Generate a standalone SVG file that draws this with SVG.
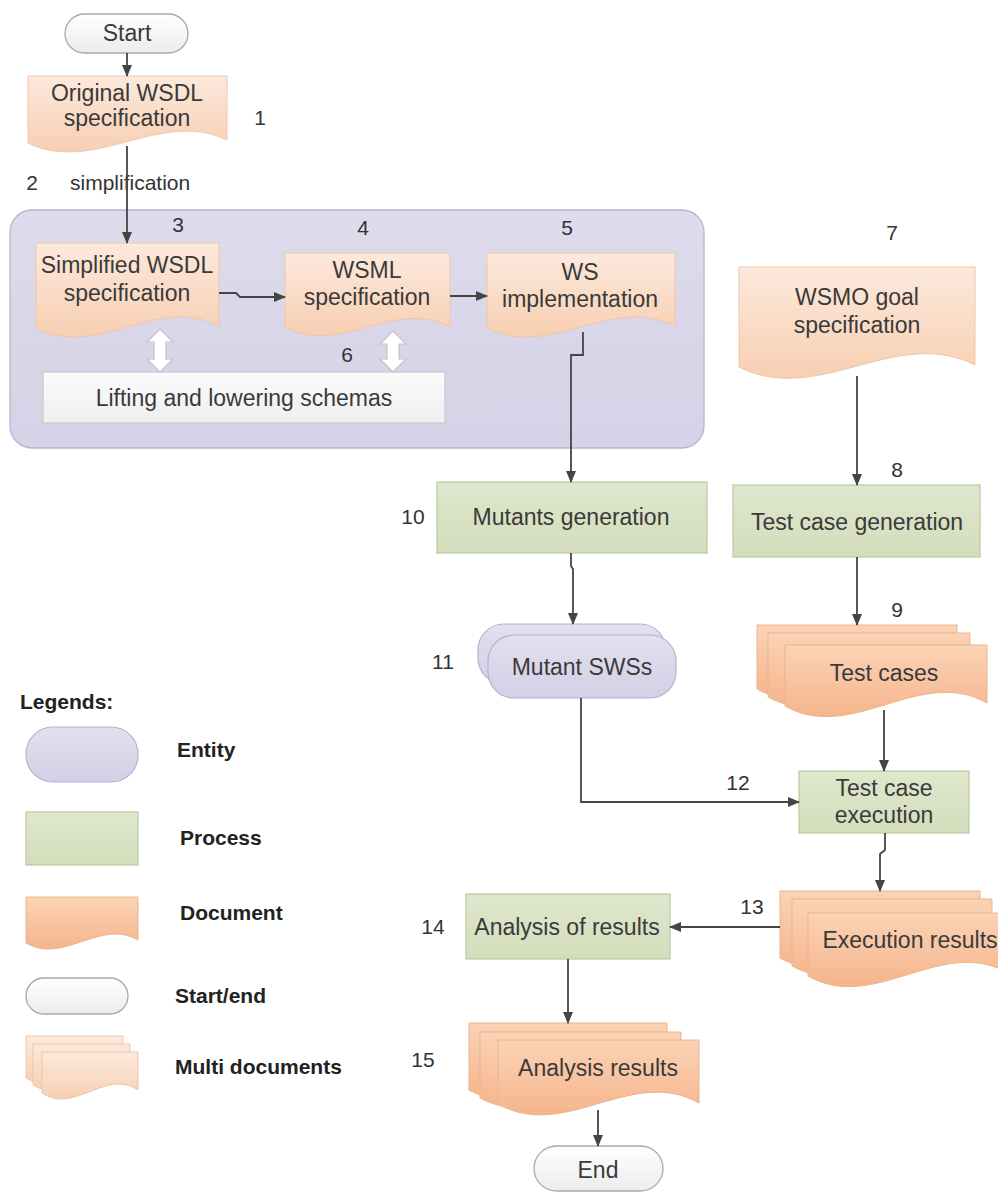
<svg xmlns="http://www.w3.org/2000/svg" width="998" height="1193" viewBox="0 0 998 1193">
<defs>
<linearGradient id="gDoc" x1="0" y1="0" x2="0" y2="1"><stop offset="0" stop-color="#fce9dc"/><stop offset="1" stop-color="#f8cfb2"/></linearGradient>
<linearGradient id="gMulti" x1="0" y1="0" x2="0" y2="1"><stop offset="0" stop-color="#fbd3b6"/><stop offset="1" stop-color="#f5b58c"/></linearGradient>
<linearGradient id="gProc" x1="0" y1="0" x2="0" y2="1"><stop offset="0" stop-color="#dfe7cd"/><stop offset="1" stop-color="#d3ddbb"/></linearGradient>
<linearGradient id="gEnt" x1="0" y1="0" x2="0" y2="1"><stop offset="0" stop-color="#e3e0ef"/><stop offset="1" stop-color="#d3cfe6"/></linearGradient>
<linearGradient id="gGroup" x1="0" y1="0" x2="0" y2="1"><stop offset="0" stop-color="#dedbec"/><stop offset="1" stop-color="#d6d2e7"/></linearGradient>
<linearGradient id="gSE" x1="0" y1="0" x2="0" y2="1"><stop offset="0" stop-color="#ffffff"/><stop offset="1" stop-color="#ececec"/></linearGradient>
<linearGradient id="gLift" x1="0" y1="0" x2="0" y2="1"><stop offset="0" stop-color="#fbfbfb"/><stop offset="1" stop-color="#efefef"/></linearGradient>
<marker id="arr" markerUnits="userSpaceOnUse" markerWidth="12" markerHeight="12" viewBox="0 0 12 12" refX="11" refY="6" orient="auto">
<path d="M0,1 L12,6 L0,11 Z" fill="#454545"/>
</marker>
</defs>
<style>
.doc{fill:url(#gDoc);stroke:#ecc7aa;stroke-width:1}
.multi{fill:url(#gMulti);stroke:#e9b48e;stroke-width:1}
.proc{fill:url(#gProc);stroke:#bcc8a4;stroke-width:1.2}
.ent{fill:url(#gEnt);stroke:#b7b2cc;stroke-width:1.2}
.se{fill:url(#gSE);stroke:#a9a9a9;stroke-width:1.3}
.t{font-family:"Liberation Sans",Arial,sans-serif;font-size:23px;fill:#3a3a3a;text-anchor:middle}
.n{font-family:"Liberation Sans",Arial,sans-serif;font-size:21px;fill:#333;text-anchor:middle}
.lg{font-family:"Liberation Sans",Arial,sans-serif;font-size:21px;font-weight:bold;fill:#222}
.c{fill:none;stroke:#454545;stroke-width:1.8}
.dbl{fill:#ffffff;stroke:#c4c4c4;stroke-width:1.2}
</style>

<g id="group-box">
<rect x="10" y="210" width="694" height="238" rx="22" fill="url(#gGroup)" stroke="#b9b5cc" stroke-width="1.3"/>
</g>

<g id="start">
<rect class="se" x="65" y="14" width="123" height="39" rx="19.5"/>
<text class="t" x="127" y="41">Start</text>
</g>

<g id="n1">
<path class="doc" d="M28,76 H227 V140 C161,108 94,175 28,143 Z"/>
<text class="t" x="127" y="101">Original WSDL</text>
<text class="t" x="127" y="126">specification</text>
<text class="n" x="260" y="125">1</text>
</g>

<g id="n2">
<text class="n" x="32" y="190">2</text>
<text class="n" x="70" y="190" style="text-anchor:start">simplification</text>
</g>

<g id="n3">
<path class="doc" d="M36,243 H219 V326 C158,294 97,360 36,328 Z"/>
<text class="t" x="127" y="273">Simplified WSDL</text>
<text class="t" x="127" y="301">specification</text>
<text class="n" x="178" y="232">3</text>
</g>

<g id="n4">
<path class="doc" d="M285,253 H450 V327 C395,297 340,357 285,327 Z"/>
<text class="t" x="367" y="278">WSML</text>
<text class="t" x="367" y="305">specification</text>
<text class="n" x="363" y="235">4</text>
</g>

<g id="n5">
<path class="doc" d="M487,253 H675 V326 C612,294 550,360 487,328 Z"/>
<text class="t" x="580" y="280">WS</text>
<text class="t" x="580" y="307">implementation</text>
<text class="n" x="567" y="235">5</text>
</g>

<g id="n6">
<rect x="43" y="372" width="402" height="51" fill="url(#gLift)" stroke="#c9c9c9" stroke-width="1.2"/>
<text class="t" x="244" y="406">Lifting and lowering schemas</text>
<path class="dbl" d="M160,329 L173,342 L166,342 L166,359 L173,359 L160,372 L147,359 L154,359 L154,342 L147,342 Z"/>
<path class="dbl" d="M393,331 L406,344 L399,344 L399,359 L406,359 L393,372 L380,359 L387,359 L387,344 L380,344 Z"/>
<text class="n" x="347" y="362">6</text>
</g>

<g id="n7">
<path class="doc" d="M739,267 H975 V365 C896,325 818,407 739,367 Z"/>
<text class="t" x="857" y="305">WSMO goal</text>
<text class="t" x="857" y="333">specification</text>
<text class="n" x="892" y="240">7</text>
</g>

<g id="n8">
<rect class="proc" x="733" y="485" width="247" height="72"/>
<text class="t" x="857" y="530">Test case generation</text>
<text class="n" x="897" y="477">8</text>
</g>

<g id="n9">
<path class="multi" d="M757,625 H957 V687 C890,651 824,725 757,689 Z"/>
<path class="multi" d="M768,633 H970 V695 C903,659 835,733 768,697 Z"/>
<path class="multi" d="M785,645 H987 V703 C920,665 852,744 785,706 Z"/>
<text class="t" x="884" y="681">Test cases</text>
<text class="n" x="897" y="617">9</text>
</g>

<g id="n10">
<rect class="proc" x="437" y="482" width="270" height="71"/>
<text class="t" x="571" y="525">Mutants generation</text>
<text class="n" x="413" y="524">10</text>
</g>

<g id="n11">
<rect class="ent" x="478" y="624" width="188" height="60" rx="26"/>
<rect class="ent" x="488" y="635" width="188" height="63" rx="26"/>
<text class="t" x="582" y="675">Mutant SWSs</text>
<text class="n" x="443" y="669">11</text>
</g>

<g id="n12">
<rect class="proc" x="799" y="771" width="170" height="62"/>
<text class="t" x="884" y="796">Test case</text>
<text class="t" x="884" y="823">execution</text>
<text class="n" x="738" y="790">12</text>
</g>

<g id="n13">
<path class="multi" d="M780,891 H980 V955 C913,919 847,994 780,958 Z"/>
<path class="multi" d="M792,899 H992 V963 C925,927 859,1002 792,966 Z"/>
<path class="multi" d="M808,913 H1008 V973 C941,935 875,1014 808,976 Z"/>
<text class="t" x="910" y="948">Execution results</text>
<text class="n" x="752" y="914">13</text>
</g>

<g id="n14">
<rect class="proc" x="466" y="894" width="204" height="65"/>
<text class="t" x="567" y="935">Analysis of results</text>
<text class="n" x="433" y="934">14</text>
</g>

<g id="n15">
<path class="multi" d="M469,1023 H667 V1087 C601,1051 535,1126 469,1090 Z"/>
<path class="multi" d="M480,1032 H681 V1095 C614,1059 547,1134 480,1098 Z"/>
<path class="multi" d="M498,1040 H699 V1103 C632,1065 565,1142 498,1104 Z"/>
<text class="t" x="598" y="1076">Analysis results</text>
<text class="n" x="423" y="1067">15</text>
</g>

<g id="end">
<rect class="se" x="534" y="1146" width="129" height="45" rx="22.5"/>
<text class="t" x="598" y="1178">End</text>
</g>

<g id="legend">
<text class="lg" x="20" y="709">Legends:</text>
<rect class="ent" x="26" y="727" width="112" height="55" rx="27"/>
<text class="lg" x="177" y="757">Entity</text>
<rect class="proc" x="26" y="812" width="112" height="53"/>
<text class="lg" x="180" y="845">Process</text>
<path class="multi" d="M26,897 H138 V940 C101,918 63,965 26,943 Z"/>
<text class="lg" x="180" y="920">Document</text>
<rect class="se" x="26" y="978" width="102" height="36" rx="18"/>
<text class="lg" x="175" y="1003">Start/end</text>
<path class="doc" d="M26,1036 H123 V1075 C91,1055 58,1098 26,1078 Z"/>
<path class="doc" d="M33,1044 H130 V1082 C98,1062 65,1105 33,1085 Z"/>
<path class="doc" d="M42,1052 H138 V1090 C106,1068 74,1115 42,1093 Z"/>
<text class="lg" x="175" y="1074">Multi documents</text>
</g>

<g id="connectors">
<path class="c" d="M127,53 V76" marker-end="url(#arr)"/>
<path class="c" d="M127,146 V243" marker-end="url(#arr)"/>
<path class="c" d="M219,293 H236 L240,297 H285" marker-end="url(#arr)"/>
<path class="c" d="M450,296 H487" marker-end="url(#arr)"/>
<path class="c" d="M583,332 V355 H571 V482" marker-end="url(#arr)"/>
<path class="c" d="M857,376 V485" marker-end="url(#arr)"/>
<path class="c" d="M571,553 V566 L573,569 V624" marker-end="url(#arr)"/>
<path class="c" d="M857,557 V625" marker-end="url(#arr)"/>
<path class="c" d="M884,710 V771" marker-end="url(#arr)"/>
<path class="c" d="M581,698 V802 H799" marker-end="url(#arr)"/>
<path class="c" d="M885,833 V850 L880,854 V891" marker-end="url(#arr)"/>
<path class="c" d="M780,927 H670" marker-end="url(#arr)"/>
<path class="c" d="M568,959 V1023" marker-end="url(#arr)"/>
<path class="c" d="M598,1110 V1146" marker-end="url(#arr)"/>
</g>
</svg>
